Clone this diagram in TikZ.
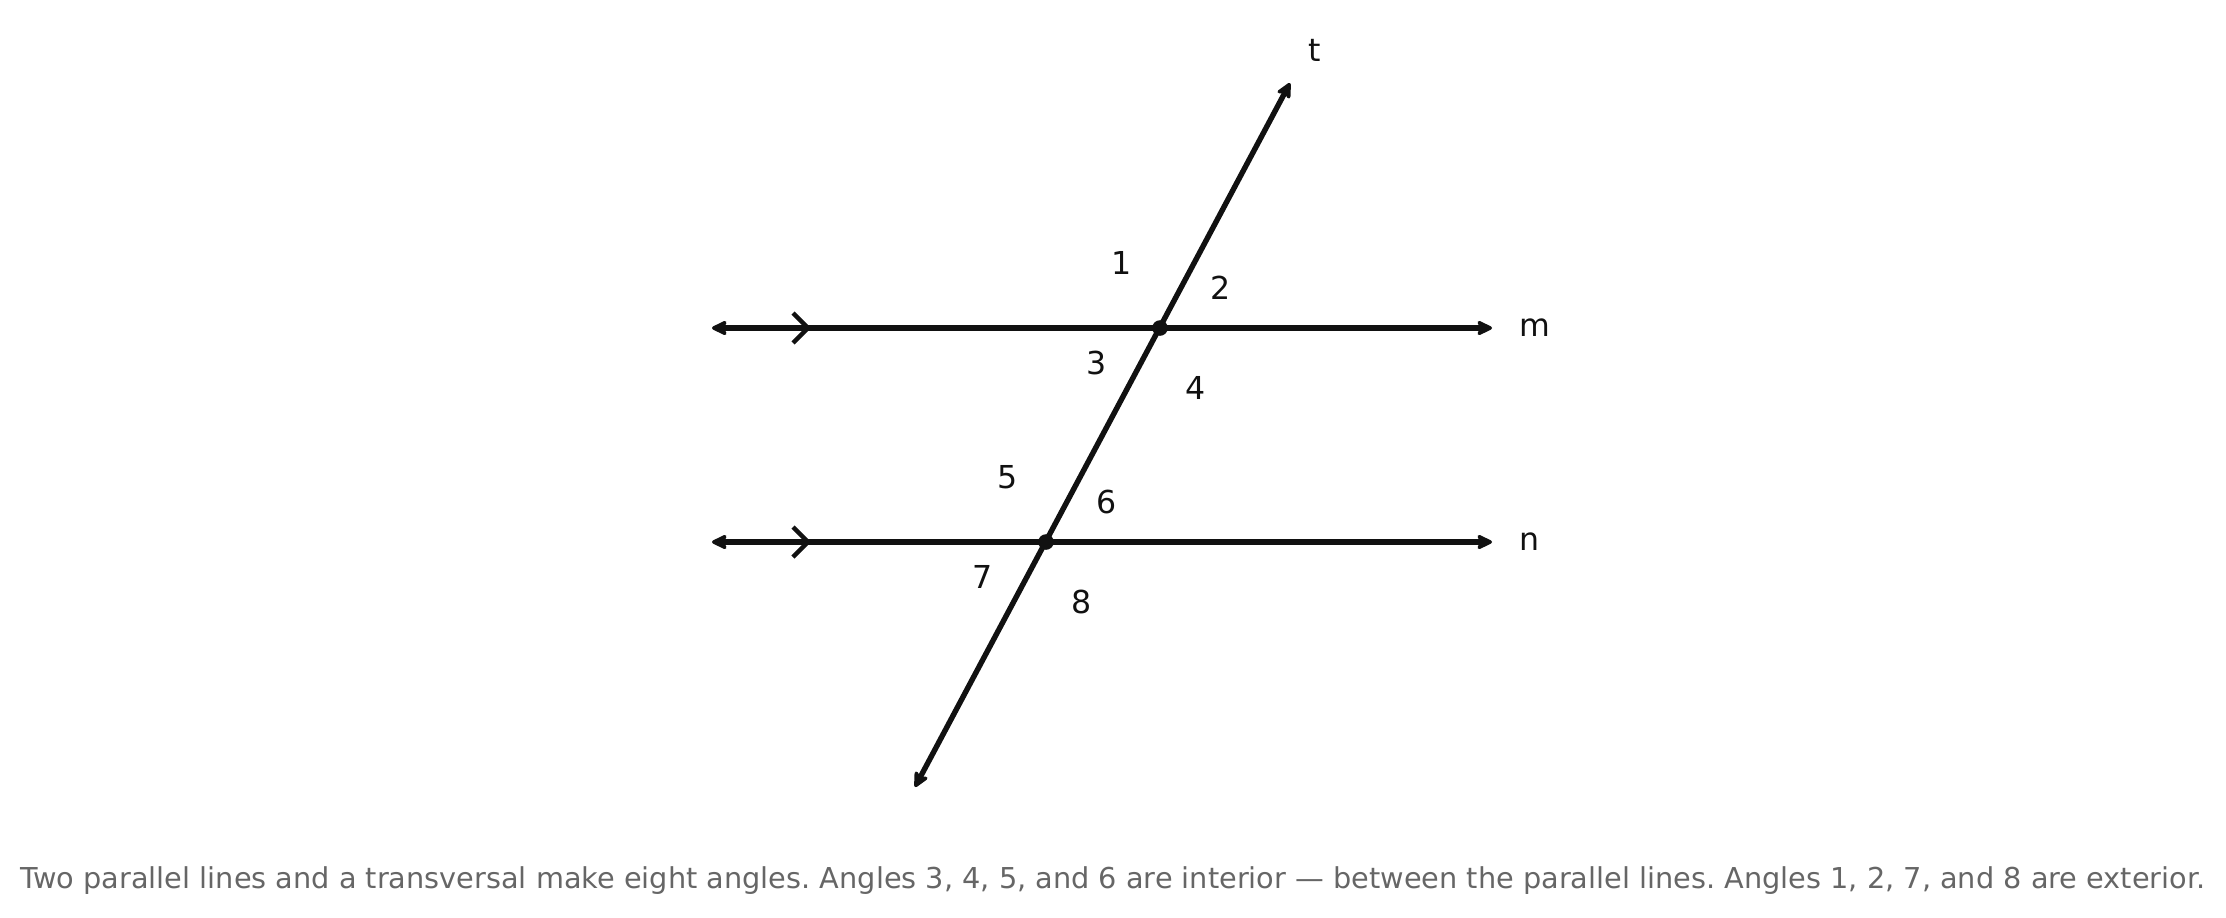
\documentclass[tikz,border=0pt]{standalone}
\usepackage{fontspec}
\setmainfont{DejaVu Sans}
\usetikzlibrary{arrows.meta}
\definecolor{ink}{HTML}{111111}
\definecolor{capgray}{HTML}{666666}
\frenchspacing
\begin{document}
\begin{tikzpicture}[x=0.5pt,y=-0.5pt,
  rayline/.style={draw=ink,line width=2.7pt,line cap=round},
  bothend/.style={{Stealth[length=9.6pt,width=9.2pt,inset=2.7pt,round]}-{Stealth[length=9.6pt,width=9.2pt,inset=2.7pt,round]}},
  chev/.style={draw=ink,line width=2.2pt},
  dotnode/.style={circle,fill=ink,minimum size=7.8pt,inner sep=0pt},
  anglab/.style={font=\fontsize{15.8pt}{18pt}\selectfont,text=ink,inner sep=0pt},
  linelab/.style={font=\fontsize{15.8pt}{18pt}\selectfont,text=ink,inner sep=0pt},
  captext/.style={font=\fontsize{14.38pt}{17pt}\selectfont,text=capgray,inner sep=0pt}]
\useasboundingbox (0,0) rectangle (2226,917);
% intersections
\coordinate (P) at (1160,328);
\coordinate (Q) at (1046,542);
% ray ends
\coordinate (mL) at (712,328);
\coordinate (mR) at (1492,328);
\coordinate (nL) at (712,542);
\coordinate (nR) at (1492,542);
\coordinate (tT) at (1290,83);
\coordinate (tB) at (915,787);
% lines
\draw[rayline,bothend] (mL) -- (mR);
\draw[rayline,bothend] (nL) -- (nR);
\draw[rayline,bothend] (tB) -- (tT);
% parallel marks
\draw[chev] (793,313) -- (808,328) -- (793,343);
\draw[chev] (793,527) -- (808,542) -- (793,557);
% dots
\node[dotnode] (dP) at (P) {};
\node[dotnode] (dQ) at (Q) {};
% line labels
\node[linelab,anchor=west] (labm) at (1519,328) {m};
\node[linelab,anchor=west] (labn) at (1519,542) {n};
\node[linelab] (labt) at (1315,50) {t};
% angle labels
\node[anglab] (a1) at (1122,263) {1};
\node[anglab] (a2) at (1221,288) {2};
\node[anglab] (a3) at (1097,363) {3};
\node[anglab] (a4) at (1196,388) {4};
\node[anglab] (a5) at (1008,477) {5};
\node[anglab] (a6) at (1107,502) {6};
\node[anglab] (a7) at (983,577) {7};
\node[anglab] (a8) at (1082,602) {8};
% caption
\node[captext] (cap) at (1113,881) {Two parallel lines and a transversal make eight angles. Angles 3, 4, 5, and 6 are interior — between the parallel lines. Angles 1, 2, 7, and 8 are exterior.};
\end{tikzpicture}
\end{document}
